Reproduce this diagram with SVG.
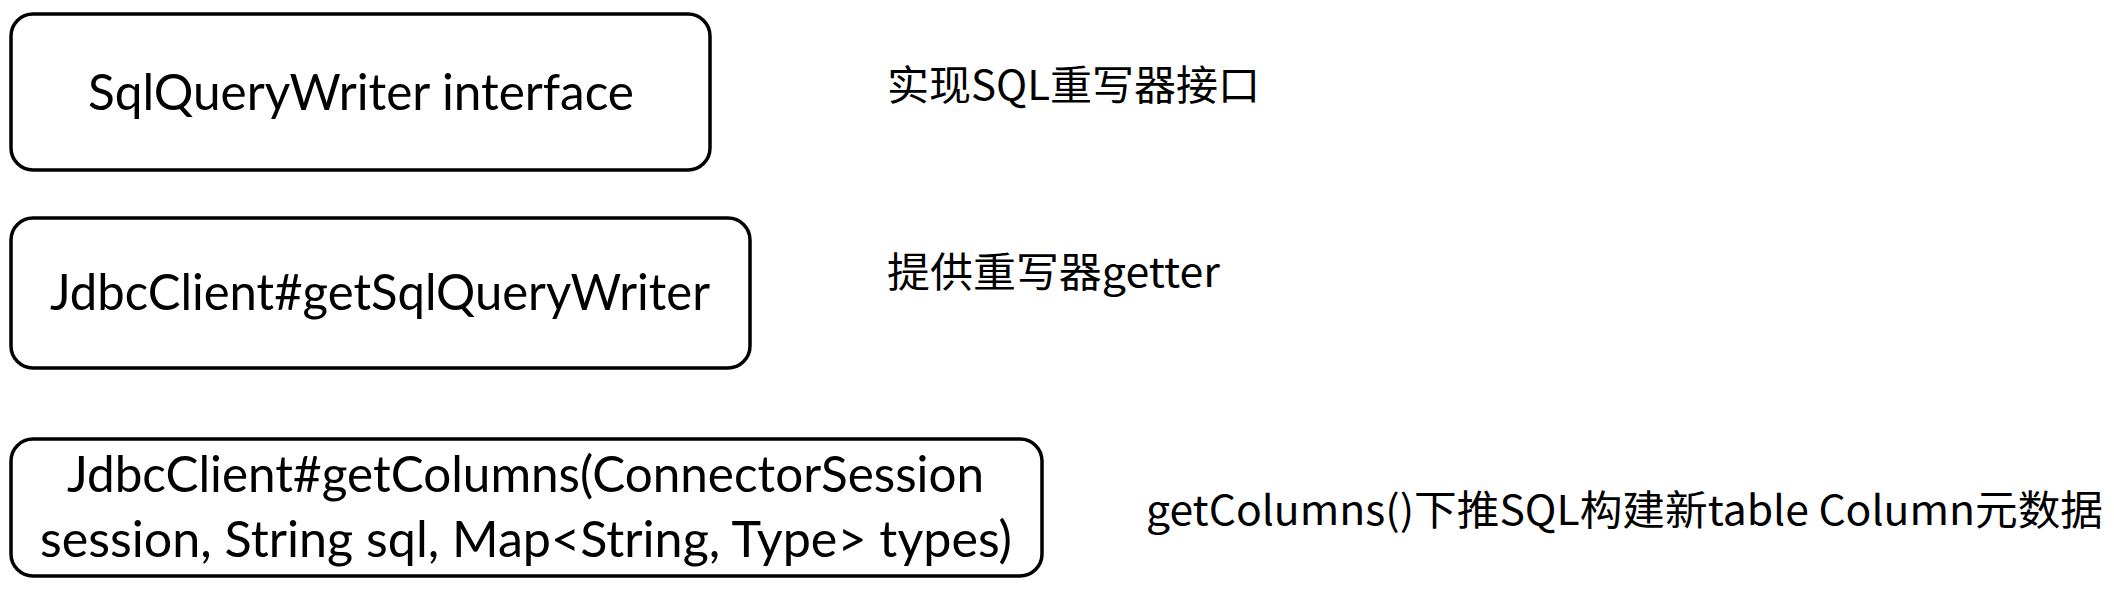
<svg xmlns="http://www.w3.org/2000/svg" width="2114" height="590" viewBox="0 0 2114 590">
<style>
.box{fill:#fff;stroke:#000;stroke-width:3.5}
.t{font-family:Lato,"Open Sans","Noto Sans CJK SC",sans-serif;font-size:51px;fill:#000}
.l{font-family:"Noto Sans CJK SC",Lato,sans-serif;font-size:41px;fill:#000}
</style>
<rect width="2114" height="590" fill="#fff"/>
<g id="node1">
<rect class="box" x="11" y="14" width="699" height="156" rx="22"/>
<text class="t" x="88" y="110" textLength="546" lengthAdjust="spacingAndGlyphs">SqlQueryWriter interface</text>
</g>
<g id="node2">
<rect class="box" x="11" y="218" width="739" height="150" rx="22"/>
<text class="t" x="50" y="310" textLength="660" lengthAdjust="spacingAndGlyphs">JdbcClient#getSqlQueryWriter</text>
</g>
<g id="node3">
<rect class="box" x="11" y="439" width="1031" height="137" rx="22"/>
<text class="t" x="67" y="492" textLength="917" lengthAdjust="spacingAndGlyphs">JdbcClient#getColumns(ConnectorSession</text>
<text class="t" x="40" y="557" textLength="972" lengthAdjust="spacingAndGlyphs">session, String sql, Map&lt;String, Type&gt; types)</text>
</g>
<g id="label1"><text class="l" x="887" y="100" textLength="373" lengthAdjust="spacingAndGlyphs">实现SQL重写器接口</text></g>
<g id="label2"><text class="l" x="887" y="287" textLength="333" lengthAdjust="spacingAndGlyphs">提供重写器getter</text></g>
<g id="label3"><text class="l" x="1146" y="525" textLength="957" lengthAdjust="spacingAndGlyphs">getColumns()下推SQL构建新table Column元数据</text></g>
<g id="connectors"/>
</svg>
